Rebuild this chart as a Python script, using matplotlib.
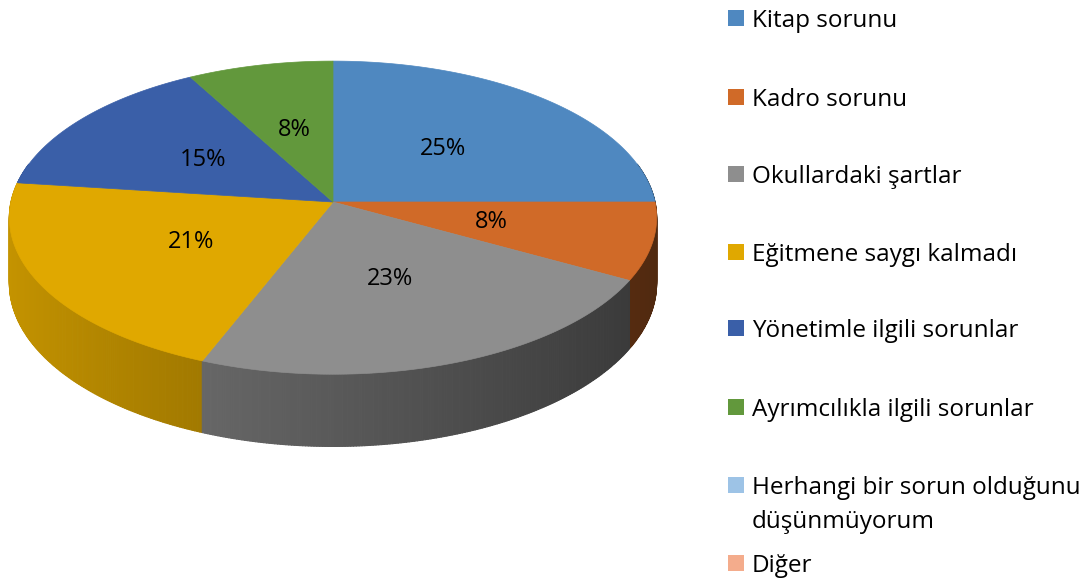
import numpy as np
import matplotlib
matplotlib.use("Agg")
import matplotlib.pyplot as plt
from matplotlib.patches import Polygon, Rectangle
from matplotlib.collections import PolyCollection
from matplotlib.colors import to_rgb

categories = ["Kitap sorunu", "Kadro sorunu", "Okullardaki şartlar",
              "Eğitmene saygı kalmadı", "Yönetimle ilgili sorunlar",
              "Ayrımcılıkla ilgili sorunlar",
              "Herhangi bir sorun olduğunu\ndüşünmüyorum", "Diğer"]
values = [25, 8, 23, 21, 15, 8, 0, 0]
colors = ["#4F88C0", "#D06A28", "#8E8E8E", "#E0A800",
          "#3A5FA8", "#62983C", "#9DC3E6", "#F4AC8C"]

plt.rcParams["font.family"] = ["Open Sans", "DejaVu Sans"]

fig = plt.figure(figsize=(10.85, 5.81), dpi=100)
ax = fig.add_axes([0, 0, 1, 1])
ax.set_xlim(0, 1085)
ax.set_ylim(581, 0)
ax.axis("off")

# pie geometry (pixels), simple perspective: front bigger than back
cx, cy = 333, 202
a, b = 322, 155
k = 0.1
depth = 65


def proj(t, r=1.0, z=0.0):
    d = -r * np.sin(t)          # front > 0
    f = 1.0 / (1.0 - k * d)
    x = cx + a * r * np.cos(t) * f
    y = cy - b * r * np.sin(t) * f + z * f
    return x, y


def shade(t):
    return 0.88 - 0.25 * (np.cos(t) + 1)


total = sum(values)
cum = np.concatenate([[0], np.cumsum(values)])
starts = np.deg2rad(90 - 360 * cum[:-1] / total)
ends = np.deg2rad(90 - 360 * cum[1:] / total)

# side walls
walls = []
for i, v in enumerate(values):
    if v == 0:
        continue
    base = np.array(to_rgb(colors[i]))
    ts = np.linspace(starts[i], ends[i], max(int(v * 8), 10))
    for t0, t1 in zip(ts[:-1], ts[1:]):
        tm = 0.5 * (t0 + t1)
        if np.sin(tm) > 0.25:
            continue
        x0, y0 = proj(t0)
        x1, y1 = proj(t1)
        x2, y2 = proj(t1, z=depth)
        x3, y3 = proj(t0, z=depth)
        c = np.clip(base * shade(tm), 0, 1)
        walls.append((-np.sin(tm), [(x0, y0), (x1, y1), (x2, y2), (x3, y3)], c))
walls.sort(key=lambda w: w[0])
pc = PolyCollection([w[1] for w in walls], facecolors=[w[2] for w in walls],
                    edgecolors=[w[2] for w in walls], linewidths=0.8)
ax.add_collection(pc)

# top faces
for i, v in enumerate(values):
    if v == 0:
        continue
    ts = np.linspace(starts[i], ends[i], 200)
    xs, ys = proj(ts)
    pts = [(cx, cy)] + list(zip(xs, ys))
    ax.add_patch(Polygon(pts, closed=True, facecolor=colors[i],
                         edgecolor=colors[i], linewidth=0.5))

# data labels
for i, v in enumerate(values):
    if v == 0:
        continue
    tm = 0.5 * (starts[i] + ends[i])
    lx, ly = proj(tm, r=0.5)
    ax.text(lx, ly, f"{v}%", fontsize=17, ha="center", va="center",
            color="black")

# legend
row_y = [18, 97, 174, 252, 328, 407, 485, 563]
for i, name in enumerate(categories):
    y = row_y[i]
    ax.add_patch(Rectangle((728, y - 8), 16, 16, facecolor=colors[i],
                           edgecolor="none"))
    for j, line in enumerate(name.split("\n")):
        ax.text(752, y + 34 * j + 9, line, fontsize=17.5, ha="left",
                va="baseline", color="black")

fig.savefig("out.png", dpi=100)
